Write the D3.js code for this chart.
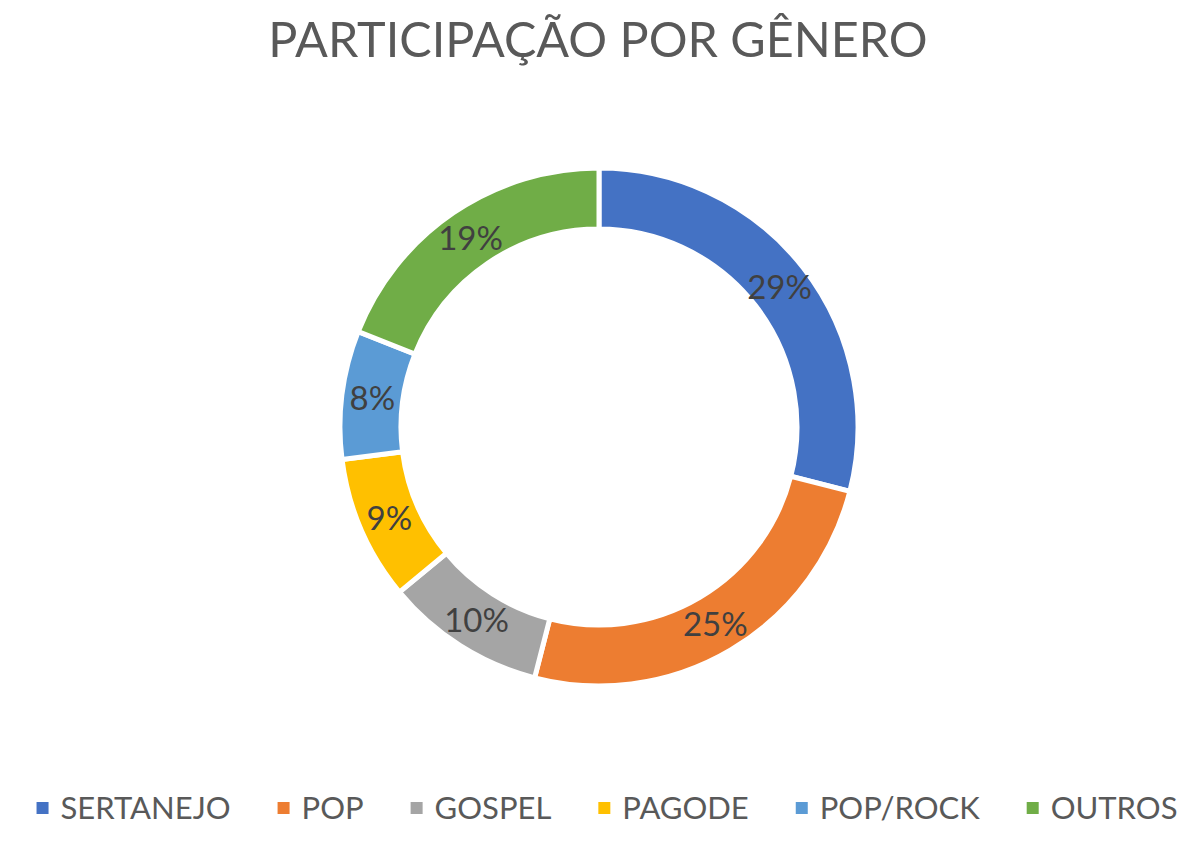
<!DOCTYPE html>
<html>
<head>
<meta charset="utf-8">
<script src="https://cdn.jsdelivr.net/npm/d3@7"></script>
<style>
  html, body { margin: 0; padding: 0; background: #fff; }
  svg { display: block; }
</style>
</head>
<body>
<svg id="chart" width="1200" height="845"></svg>
<script>
// ---- data ----
const title = "PARTICIPAÇÃO POR GÊNERO";
const categories = ["SERTANEJO", "POP", "GOSPEL", "PAGODE", "POP/ROCK", "OUTROS"];
const values = [29, 25, 10, 9, 8, 19];
const colors = ["#4472C4", "#ED7D31", "#A5A5A5", "#FFC000", "#5B9BD5", "#70AD47"];

// ---- layout ----
const W = 1200, H = 845;
const cx = 599, cy = 427;
const outerR = 259, innerR = 198;
const font = "Lato, 'Open Sans', sans-serif";

const svg = d3.select("#chart");

svg.append("text")
  .attr("x", 598)
  .attr("y", 57)
  .attr("text-anchor", "middle")
  .attr("font-family", font)
  .attr("font-size", 48.5)
  .attr("fill", "#595959")
  .text(title);

const data = categories.map((c, i) => ({ name: c, value: values[i], color: colors[i] }));
const total = d3.sum(values);

const pie = d3.pie().value(d => d.value).sort(null);
const arc = d3.arc().innerRadius(innerR).outerRadius(outerR);
const labelArc = d3.arc().innerRadius((innerR + outerR) / 2).outerRadius((innerR + outerR) / 2);

const g = svg.append("g").attr("transform", `translate(${cx},${cy})`);
const arcs = pie(data);

g.selectAll("path")
  .data(arcs)
  .join("path")
  .attr("d", arc)
  .attr("fill", d => d.data.color)
  .attr("stroke", "#fff")
  .attr("stroke-width", 5)
  .attr("stroke-linejoin", "miter");

g.selectAll("text.lbl")
  .data(arcs)
  .join("text")
  .attr("class", "lbl")
  .attr("transform", d => `translate(${labelArc.centroid(d)})`)
  .attr("text-anchor", "middle")
  .attr("dy", "0.36em")
  .attr("font-family", font)
  .attr("font-size", 33)
  .attr("fill", "#404040")
  .text(d => Math.round(d.data.value / total * 100) + "%");

// ---- legend ----
const legendY = 808;
const sw = 12, swGap = 12, itemGap = 47;
const leg = svg.append("g");
const items = leg.selectAll("g.item").data(data).join("g").attr("class", "item");
items.append("rect")
  .attr("width", sw).attr("height", sw)
  .attr("y", legendY - sw / 2)
  .attr("fill", d => d.color);
items.append("text")
  .attr("x", sw + swGap)
  .attr("y", legendY)
  .attr("dy", "0.36em")
  .attr("font-family", font)
  .attr("font-size", 31)
  .attr("fill", "#595959")
  .text(d => d.name);

const widths = [];
items.each(function() {
  const tw = d3.select(this).select("text").node().getComputedTextLength();
  widths.push(sw + swGap + tw);
});
const totalW = d3.sum(widths) + itemGap * (widths.length - 1);
let startX = 607 - totalW / 2;
items.attr("transform", (d, i) => {
  const t = `translate(${startX},0)`;
  startX += widths[i] + itemGap;
  return t;
});
</script>
</body>
</html>
